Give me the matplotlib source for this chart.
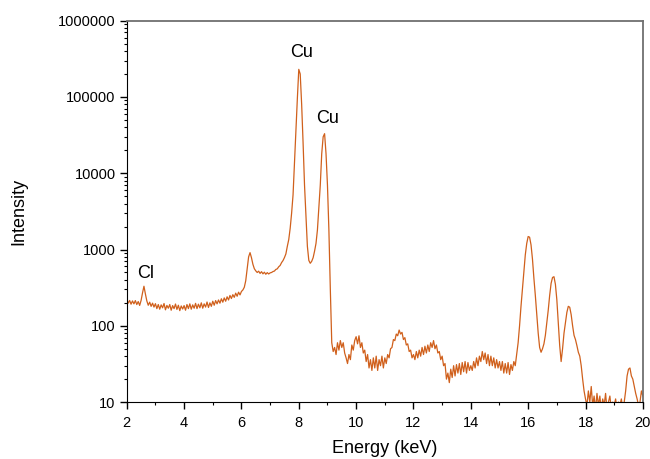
import numpy as np
import matplotlib.pyplot as plt
from matplotlib.ticker import LogLocator, NullFormatter, MultipleLocator

plt.rcParams['font.family'] = ['Liberation Sans', 'DejaVu Sans']

# channel energies, 0.05 keV steps from 2 to 20 keV
energy = np.linspace(2.0, 20.0, 361)

# counts, one row per keV
counts = [
    222, 198, 215, 192, 212, 194, 214, 190, 208, 185, 215, 270, 330, 262, 212, 186, 204, 180, 198, 176,
    195, 168, 190, 165, 188, 172, 196, 162, 185, 170, 190, 160, 184, 168, 193, 164, 186, 158, 182, 166,
    184, 160, 190, 168, 194, 165, 188, 170, 197, 168, 192, 172, 200, 170, 194, 176, 205, 174, 200, 180,
    210, 186, 214, 194, 218, 198, 226, 204, 232, 210, 240, 218, 250, 228, 256, 236, 268, 244, 276, 254,
    282, 295, 320, 390, 560, 800, 910, 780, 640, 560, 525, 500, 520, 486, 512, 480, 504, 474, 498, 478,
    494, 500, 514, 522, 548, 558, 594, 618, 674, 716, 784, 876, 1100, 1350, 1900, 3000, 5200, 14000, 35000, 95000,
    230000, 200000, 80000, 25000, 7000, 2700, 1100, 720, 660, 700, 780, 950, 1200, 1800, 3500, 7000, 18000, 30000, 33000, 18000,
    7000, 1800, 300, 60, 46, 52, 42, 60, 48, 64, 52, 60, 44, 38, 32, 42, 36, 56, 48, 64,
    72, 58, 74, 52, 60, 44, 48, 34, 42, 28, 36, 26, 38, 28, 40, 26, 36, 30, 40, 28,
    38, 32, 42, 38, 50, 52, 66, 64, 78, 74, 88, 78, 82, 66, 70, 56, 58, 46, 48, 38,
    42, 36, 46, 38, 48, 40, 52, 42, 54, 44, 56, 46, 60, 52, 64, 50, 56, 44, 46, 36,
    40, 30, 32, 20, 24, 18, 27, 21, 30, 22, 31, 24, 32, 23, 33, 25, 34, 24, 33, 26,
    30, 26, 34, 28, 38, 30, 40, 34, 46, 36, 44, 32, 42, 30, 40, 30, 38, 28, 36, 28,
    34, 26, 34, 24, 32, 24, 33, 23, 31, 26, 34, 30, 42, 60, 100, 180, 300, 520, 850, 1200,
    1480, 1450, 1150, 750, 420, 250, 140, 80, 52, 45, 50, 58, 75, 110, 160, 250, 360, 430, 440, 350,
    220, 110, 55, 34, 50, 80, 110, 150, 180, 175, 140, 100, 75, 66, 55, 45, 40, 30, 20, 14,
    11, 9, 14, 10, 16, 9, 12, 8, 13, 9, 12, 8, 11, 9, 13, 8, 10, 12, 8, 10,
    9, 11, 8, 10, 9, 11, 8, 10, 14, 22, 27, 28, 22, 20, 16, 13, 11, 9, 10, 14,
    12,
]

peak_labels = ['Cl', 'Cu', 'Cu']
peak_x = [2.67, 8.10, 9.02]
peak_y = [490, 377000, 52000]

fig = plt.figure(figsize=(6.5, 4.59), dpi=100)
ax = fig.add_axes([0.195, 0.124, 0.794, 0.831])

ax.plot(energy, counts, color='#d0601c', linewidth=0.9)

for lab, x, y in zip(peak_labels, peak_x, peak_y):
    ax.text(x, y, lab, ha='center', va='center', fontsize=13)

ax.set_yscale('log')
ax.set_xlim(2, 20)
ax.set_ylim(10, 1000000)
ax.xaxis.set_major_locator(MultipleLocator(2))
ax.xaxis.set_minor_locator(MultipleLocator(1))
ax.yaxis.set_minor_locator(LogLocator(base=10, subs=np.arange(2, 10), numticks=20))
ax.yaxis.set_minor_formatter(NullFormatter())
ax.set_yticks([10, 100, 1000, 10000, 100000, 1000000])
ax.set_yticklabels(['10', '100', '1000', '10000', '100000', '1000000'])

ax.tick_params(which='major', length=5, width=1, labelsize=10.5, direction='out')
ax.tick_params(which='minor', length=2.5, width=0.8, direction='out')
ax.tick_params(axis='x', pad=5)
ax.tick_params(axis='y', pad=3)

ax.spines['top'].set_color('#707070')
ax.spines['right'].set_color('#707070')
ax.spines['top'].set_linewidth(1.3)
ax.spines['right'].set_linewidth(1.3)

ax.set_xlabel('Energy (keV)', fontsize=13, labelpad=7)
ax.set_ylabel('Intensity', fontsize=13, labelpad=22)

fig.savefig('out.png', dpi=100)
